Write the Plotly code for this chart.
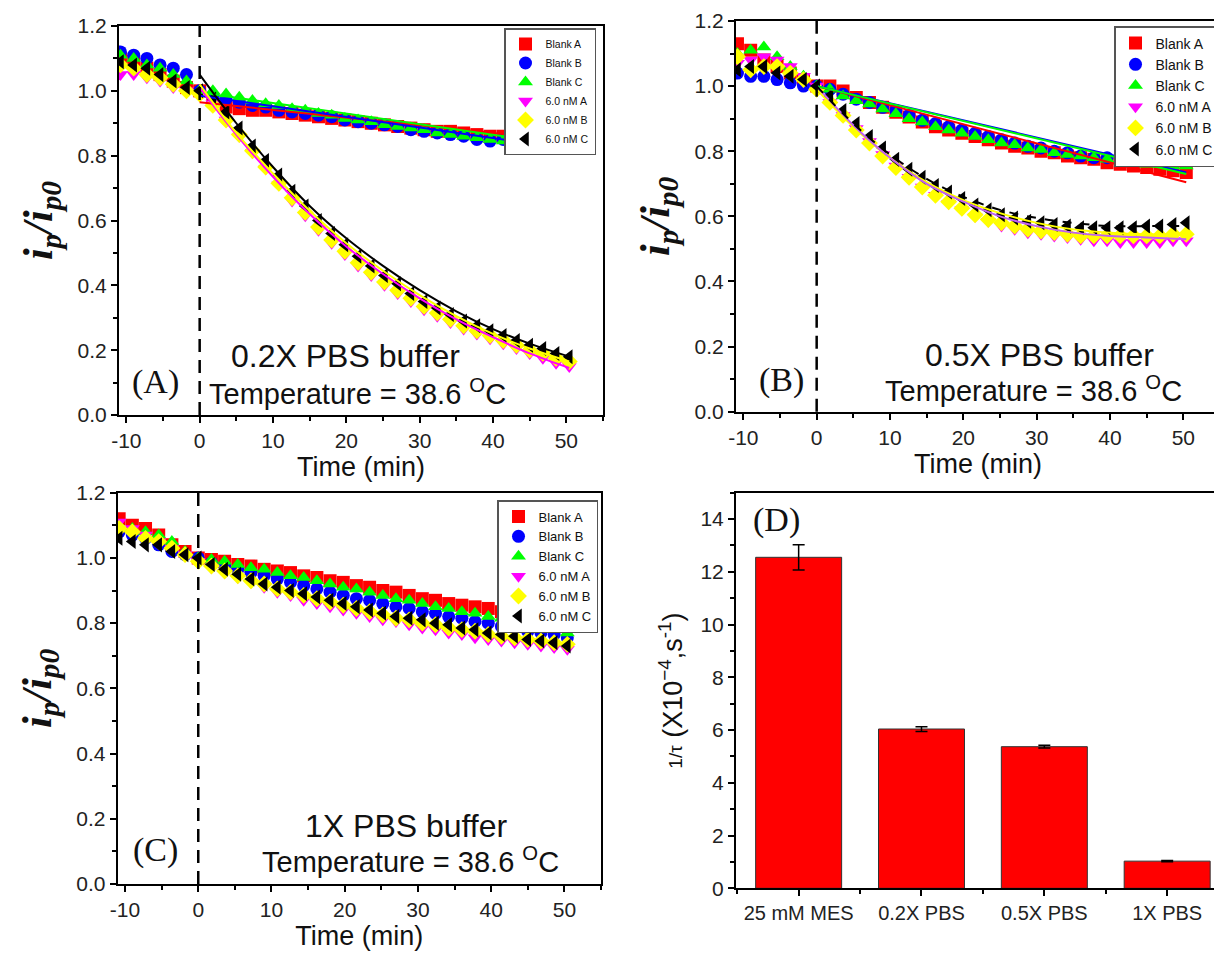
import plotly.graph_objects as go

W, H = 1222, 957
OFF = 8  # page body margin of the html page, compensated in the layout positions

# ---------------- data ----------------
time_min = [-10.8, -9.0, -7.2, -5.4, -3.6, -1.8, 0.0, 1.8, 3.6, 5.4, 7.2, 9.0, 10.8, 12.6,
            14.4, 16.2, 18.0, 19.8, 21.6, 23.4, 25.2, 27.0, 28.8, 30.6, 32.4, 34.2, 36.0,
            37.8, 39.6, 41.4, 43.2, 45.0, 46.8, 48.6, 50.4]
time_ticks = [-10, 0, 10, 20, 30, 40, 50]
time_tick_labels = ["-10", "0", "10", "20", "30", "40", "50"]
series_names = ["Blank A", "Blank B", "Blank C", "6.0 nM A", "6.0 nM B", "6.0 nM C"]
t_injection = 0

# Panel A: 0.2X PBS
a_blank_a = [1.10, 1.09, 1.07, 1.05, 1.03, 1.01, 1.00, 0.97, 0.95, 0.945, 0.94, 0.94, 0.935, 0.93,
             0.925, 0.92, 0.915, 0.91, 0.905, 0.90, 0.895, 0.89, 0.885, 0.88, 0.875, 0.875, 0.87,
             0.865, 0.86, 0.86, 0.855, 0.85, 0.85, 0.845, 0.845]
a_blank_b = [1.12, 1.11, 1.10, 1.08, 1.07, 1.05, 1.00, 0.985, 0.975, 0.965, 0.955, 0.95, 0.94, 0.935,
             0.93, 0.925, 0.92, 0.91, 0.905, 0.90, 0.895, 0.89, 0.88, 0.875, 0.87, 0.865, 0.86,
             0.85, 0.845, 0.85, 0.845, 0.84, 0.835, 0.83, 0.825]
a_blank_c = [1.11, 1.10, 1.08, 1.07, 1.05, 1.03, 1.00, 1.00, 0.99, 0.98, 0.97, 0.96, 0.955, 0.945,
             0.94, 0.93, 0.925, 0.915, 0.91, 0.905, 0.895, 0.89, 0.885, 0.88, 0.87, 0.865, 0.86,
             0.855, 0.85, 0.845, 0.84, 0.84, 0.835, 0.83, 0.825]
a_nm_a = [1.05, 1.05, 1.04, 1.03, 1.01, 1.00, 0.99, 0.96, 0.91, 0.86, 0.81, 0.76, 0.71, 0.66,
          0.615, 0.57, 0.53, 0.495, 0.46, 0.43, 0.40, 0.375, 0.35, 0.325, 0.305, 0.285, 0.265,
          0.25, 0.235, 0.22, 0.205, 0.19, 0.175, 0.16, 0.15]
a_nm_b = [1.08, 1.07, 1.05, 1.04, 1.02, 1.00, 0.99, 0.955, 0.91, 0.865, 0.815, 0.765, 0.715, 0.67,
          0.625, 0.58, 0.54, 0.505, 0.47, 0.44, 0.41, 0.385, 0.36, 0.335, 0.315, 0.295, 0.275,
          0.26, 0.245, 0.23, 0.215, 0.20, 0.19, 0.175, 0.165]
a_nm_c = [1.09, 1.08, 1.07, 1.05, 1.03, 1.01, 1.00, 0.975, 0.935, 0.885, 0.83, 0.785, 0.74, 0.69,
          0.645, 0.60, 0.56, 0.525, 0.49, 0.46, 0.43, 0.405, 0.375, 0.35, 0.33, 0.31, 0.29,
          0.275, 0.26, 0.245, 0.23, 0.215, 0.205, 0.19, 0.18]

# Panel B: 0.5X PBS
b_blank_a = [1.13, 1.11, 1.08, 1.06, 1.04, 1.02, 1.00, 1.00, 0.985, 0.965, 0.95, 0.935, 0.92, 0.905,
             0.89, 0.875, 0.865, 0.855, 0.845, 0.835, 0.825, 0.815, 0.81, 0.80, 0.795, 0.785, 0.78,
             0.775, 0.765, 0.76, 0.755, 0.75, 0.745, 0.74, 0.735]
b_blank_b = [1.04, 1.03, 1.03, 1.02, 1.01, 1.00, 1.00, 0.99, 0.975, 0.96, 0.95, 0.935, 0.925, 0.91,
             0.895, 0.885, 0.875, 0.865, 0.855, 0.845, 0.835, 0.825, 0.815, 0.81, 0.80, 0.795, 0.785,
             0.78, 0.78, 0.78, 0.775, 0.775, 0.77, 0.77, 0.77]
b_blank_c = [1.10, 1.11, 1.12, 1.09, 1.06, 1.03, 1.00, 0.99, 0.97, 0.955, 0.945, 0.93, 0.915, 0.90,
             0.89, 0.875, 0.865, 0.855, 0.845, 0.835, 0.825, 0.82, 0.81, 0.805, 0.795, 0.79, 0.785,
             0.78, 0.775, 0.77, 0.765, 0.76, 0.76, 0.755, 0.755]
b_nm_a = [1.07, 1.08, 1.09, 1.08, 1.06, 1.03, 1.00, 0.95, 0.91, 0.87, 0.83, 0.79, 0.755, 0.72,
          0.69, 0.665, 0.64, 0.62, 0.60, 0.585, 0.57, 0.56, 0.55, 0.545, 0.54, 0.535, 0.53,
          0.525, 0.525, 0.52, 0.52, 0.52, 0.52, 0.525, 0.525]
b_nm_b = [1.09, 1.05, 1.06, 1.06, 1.04, 1.02, 0.99, 0.95, 0.91, 0.865, 0.825, 0.785, 0.75, 0.72,
          0.69, 0.665, 0.645, 0.625, 0.605, 0.59, 0.58, 0.57, 0.56, 0.555, 0.55, 0.545, 0.54,
          0.54, 0.54, 0.54, 0.54, 0.54, 0.54, 0.545, 0.545]
b_nm_c = [1.05, 1.06, 1.06, 1.04, 1.03, 1.02, 1.00, 0.97, 0.925, 0.885, 0.845, 0.81, 0.775, 0.745,
          0.72, 0.695, 0.675, 0.655, 0.635, 0.62, 0.605, 0.595, 0.585, 0.58, 0.575, 0.57, 0.565,
          0.565, 0.565, 0.565, 0.565, 0.57, 0.57, 0.575, 0.58]

# Panel C: 1X PBS
c_blank_a = [1.12, 1.10, 1.09, 1.07, 1.04, 1.02, 1.00, 0.995, 0.99, 0.98, 0.975, 0.965, 0.96, 0.955,
             0.945, 0.94, 0.93, 0.925, 0.915, 0.91, 0.90, 0.895, 0.885, 0.875, 0.87, 0.86, 0.855,
             0.85, 0.845, 0.835, 0.825, 0.82, 0.81, 0.80, 0.79]
c_blank_b = [1.08, 1.07, 1.06, 1.04, 1.02, 1.01, 1.00, 0.985, 0.975, 0.965, 0.955, 0.945, 0.935, 0.925,
             0.915, 0.905, 0.895, 0.885, 0.875, 0.87, 0.86, 0.85, 0.845, 0.835, 0.83, 0.82, 0.815,
             0.805, 0.80, 0.79, 0.785, 0.775, 0.77, 0.765, 0.755]
c_blank_c = [1.10, 1.09, 1.08, 1.07, 1.05, 1.02, 1.00, 0.995, 0.99, 0.98, 0.97, 0.965, 0.955, 0.945,
             0.94, 0.93, 0.92, 0.91, 0.905, 0.895, 0.885, 0.875, 0.87, 0.86, 0.85, 0.845, 0.835,
             0.83, 0.82, 0.815, 0.805, 0.795, 0.79, 0.78, 0.77]
c_nm_a = [1.11, 1.09, 1.07, 1.05, 1.03, 1.01, 0.99, 0.97, 0.955, 0.94, 0.925, 0.91, 0.895, 0.885,
          0.87, 0.86, 0.85, 0.84, 0.83, 0.82, 0.81, 0.805, 0.795, 0.785, 0.78, 0.77, 0.765,
          0.755, 0.75, 0.745, 0.74, 0.735, 0.73, 0.725, 0.72]
c_nm_b = [1.09, 1.08, 1.06, 1.05, 1.03, 1.01, 0.99, 0.975, 0.96, 0.945, 0.93, 0.92, 0.905, 0.895,
          0.885, 0.875, 0.865, 0.855, 0.845, 0.835, 0.825, 0.815, 0.81, 0.80, 0.795, 0.785, 0.78,
          0.775, 0.765, 0.76, 0.755, 0.75, 0.745, 0.74, 0.735]
c_nm_c = [1.06, 1.05, 1.04, 1.04, 1.02, 1.01, 1.00, 0.98, 0.965, 0.95, 0.935, 0.92, 0.91, 0.90,
          0.89, 0.88, 0.87, 0.86, 0.85, 0.84, 0.83, 0.82, 0.815, 0.81, 0.80, 0.795, 0.785,
          0.78, 0.77, 0.765, 0.76, 0.75, 0.745, 0.74, 0.73]

# Fit lines
fit_time_lin = [0.0, 50.4]
fit_time_exp = [0, 5, 10, 15, 20, 25, 30, 35, 40, 45, 50.4]
a_fit_blank_a = [0.965, 0.845]
a_fit_blank_b = [0.985, 0.82]
a_fit_blank_c = [0.995, 0.83]
a_fit_nm_a = [1.01, 0.865, 0.735, 0.62, 0.52, 0.435, 0.36, 0.295, 0.24, 0.19, 0.145]
a_fit_nm_b = [1.02, 0.87, 0.745, 0.63, 0.53, 0.445, 0.37, 0.305, 0.25, 0.205, 0.165]
a_fit_nm_c = [1.05, 0.90, 0.765, 0.645, 0.545, 0.46, 0.385, 0.32, 0.265, 0.22, 0.18]
b_fit_blank_a = [1.00, 0.705]
b_fit_blank_b = [1.00, 0.735]
b_fit_blank_c = [1.00, 0.73]
b_fit_nm_a = [1.00, 0.88, 0.78, 0.70, 0.645, 0.60, 0.57, 0.55, 0.54, 0.535, 0.53]
b_fit_nm_b = [0.99, 0.875, 0.78, 0.705, 0.65, 0.61, 0.58, 0.56, 0.55, 0.545, 0.545]
b_fit_nm_c = [1.00, 0.885, 0.79, 0.715, 0.66, 0.62, 0.595, 0.58, 0.57, 0.57, 0.57]

# Panel D
categories = ["25 mM MES", "0.2X PBS", "0.5X PBS", "1X PBS"]
rate = [12.55, 6.04, 5.37, 1.03]
rate_err = [0.48, 0.09, 0.05, 0.02]

# ---------------- figure ----------------
colors = ["#FF0000", "#0000FF", "#00FF00", "#FF00FF", "#FFFF00", "#000000"]
symbols = ["square", "circle", "triangle-up", "triangle-down", "diamond", "triangle-left"]
FONT = "Liberation Sans, Arial, sans-serif"
SERIF = "Liberation Serif, Times New Roman, serif"


def fx(px):
    return (px - OFF) / W


def fy(py):
    return 1 - (py - OFF) / H


def xdom(l, r):
    return [fx(l), fx(r)]


def ydom(t, b):
    return [fy(b), fy(t)]


fig = go.Figure()

panels = [
    dict(xa="x", ya="y", leg="legend",
         data=[a_blank_a, a_blank_b, a_blank_c, a_nm_a, a_nm_b, a_nm_c],
         lin=[a_fit_blank_a, a_fit_blank_b, a_fit_blank_c],
         exp=[a_fit_nm_a, a_fit_nm_b, a_fit_nm_c],
         expcol=["#FF00FF", "#FFFF00", "#000000"], expdash=["solid", "solid", "solid"]),
    dict(xa="x2", ya="y2", leg="legend2",
         data=[b_blank_a, b_blank_b, b_blank_c, b_nm_a, b_nm_b, b_nm_c],
         lin=[b_fit_blank_a, b_fit_blank_b, b_fit_blank_c],
         exp=[b_fit_nm_b, b_fit_nm_a, b_fit_nm_c],
         expcol=["#FFFF00", "#C060F0", "#000000"], expdash=["solid", "solid", "dash"]),
    dict(xa="x3", ya="y3", leg="legend3",
         data=[c_blank_a, c_blank_b, c_blank_c, c_nm_a, c_nm_b, c_nm_c],
         lin=[], exp=[], expcol=[], expdash=[]),
]

for p in panels:
    for name, vals, c, s in zip(series_names, p["data"], colors, symbols):
        fig.add_trace(go.Scatter(
            x=time_min, y=vals, mode="markers", name=name,
            marker=dict(color=c, symbol=s, size=13, line=dict(width=0)),
            xaxis=p["xa"], yaxis=p["ya"], legend=p["leg"]))
    for vals, c in zip(p["lin"], colors[:3]):
        fig.add_trace(go.Scatter(
            x=fit_time_lin, y=vals, mode="lines", line=dict(color=c, width=2),
            showlegend=False, xaxis=p["xa"], yaxis=p["ya"]))
    for vals, c, d in zip(p["exp"], p["expcol"], p["expdash"]):
        fig.add_trace(go.Scatter(
            x=fit_time_exp, y=vals, mode="lines", line=dict(color=c, width=2, shape="spline", dash=d),
            showlegend=False, xaxis=p["xa"], yaxis=p["ya"]))

positions = list(range(len(categories)))
fig.add_trace(go.Bar(
    x=positions, y=rate, width=0.7,
    marker=dict(color="#FF0000", line=dict(color="#333333", width=1)),
    error_y=dict(type="data", array=rate_err, color="black", thickness=1.5, width=6),
    showlegend=False, xaxis="x4", yaxis="y4"))

axis_common = dict(
    showline=True, linecolor="black", linewidth=2, mirror=True,
    ticks="outside", ticklen=6, tickwidth=1.5, tickcolor="black",
    showgrid=False, zeroline=False, automargin=False,
    tickfont=dict(family=FONT, size=21, color="#222222"),
    minor=dict(ticks="outside", ticklen=4, tickwidth=1.5, tickcolor="black"),
)

ytitle = dict(text="<b><i>i<sub>p</sub>/i<sub>p0</sub></i></b>",
              font=dict(family=SERIF, size=42, color="#111111"), standoff=12)
xtitle = dict(text="Time (min)", font=dict(family=FONT, size=27, color="#111111"), standoff=3)


def time_axis(dom, anchor):
    d = dict(axis_common)
    d.update(domain=dom, anchor=anchor, range=[-11, 55],
             tickmode="array", tickvals=time_ticks, ticktext=time_tick_labels,
             minor=dict(axis_common["minor"], dtick=5, tick0=0), title=xtitle)
    return d


def ratio_axis(dom, anchor):
    d = dict(axis_common)
    d.update(domain=dom, anchor=anchor, range=[0, 1.2], tick0=0, dtick=0.2, tickformat=".1f",
             minor=dict(axis_common["minor"], dtick=0.1, tick0=0), title=ytitle)
    return d


xa_d = dict(axis_common)
xa_d.update(domain=xdom(736, 1220), anchor="y4", range=[-0.51, 3.43],
            tickmode="array", tickvals=positions, ticktext=categories,
            tickfont=dict(family=FONT, size=20, color="#222222"),
            minor=dict(axis_common["minor"], tickmode="array", tickvals=[-0.5, 0.5, 1.5, 2.5]))
ya_d = dict(axis_common)
ya_d.update(domain=ydom(492.7, 888.3), anchor="x4", range=[0, 15], tick0=0, dtick=2,
            minor=dict(axis_common["minor"], dtick=1, tick0=0),
            title=dict(text="<span style='font-size:19px'>1/τ</span> (X10<sup>−4</sup>,s<sup>-1</sup>)",
                       font=dict(family=FONT, size=27, color="#111111"), standoff=10))

legend_common = dict(bgcolor="white", bordercolor="#555555", borderwidth=1.5,
                     xanchor="right", yanchor="top", itemwidth=30, tracegroupgap=0)

fig.update_layout(
    width=W, height=H, autosize=False,
    margin=dict(l=0, r=0, t=0, b=0, pad=0, autoexpand=False),
    paper_bgcolor="white", plot_bgcolor="white",
    font=dict(family=FONT, color="#111111"),
    xaxis=time_axis(xdom(119, 603), "y"),
    yaxis=ratio_axis(ydom(26, 415), "x"),
    xaxis2=time_axis(xdom(736, 1220), "y2"),
    yaxis2=ratio_axis(ydom(21, 411.7), "x2"),
    xaxis3=time_axis(xdom(117.7, 601), "y3"),
    yaxis3=ratio_axis(ydom(492.7, 884), "x3"),
    xaxis4=xa_d, yaxis4=ya_d,
    legend=dict(legend_common, x=fx(596), y=fy(28), font=dict(family=FONT, size=10.5, color="#111111")),
    legend2=dict(legend_common, x=fx(1219), y=fy(26), font=dict(family=FONT, size=14, color="#111111")),
    legend3=dict(legend_common, x=fx(598), y=fy(500), font=dict(family=FONT, size=13, color="#111111")),
    showlegend=True,
)

for xa in ["x", "x2", "x3"]:
    ya = xa.replace("x", "y")
    fig.add_shape(type="line", xref=xa, yref=ya + " domain", x0=t_injection, x1=t_injection,
                  y0=0, y1=1, line=dict(color="black", width=2.5, dash="13px,8px"), layer="above")


def ann(text, px, py, size, family=FONT):
    fig.add_annotation(text=text, x=fx(px), y=fy(py), xref="paper", yref="paper",
                       showarrow=False, xanchor="center", yanchor="middle",
                       font=dict(family=family, size=size, color="#111111"))


temp = "Temperature = 38.6 <sup>O</sup>C"
ann("0.2X PBS buffer", 345, 356, 32)
ann(temp, 357, 392, 29)
ann("(A)", 155, 382, 34, SERIF)
ann("0.5X PBS buffer", 1039, 355, 32)
ann(temp, 1033, 389, 29)
ann("(B)", 781, 380, 34, SERIF)
ann("1X PBS buffer", 406, 826, 32)
ann(temp, 411, 860, 29)
ann("(C)", 155, 850, 34, SERIF)
ann("(D)", 776, 520, 34, SERIF)

fig.write_html("out.html")
